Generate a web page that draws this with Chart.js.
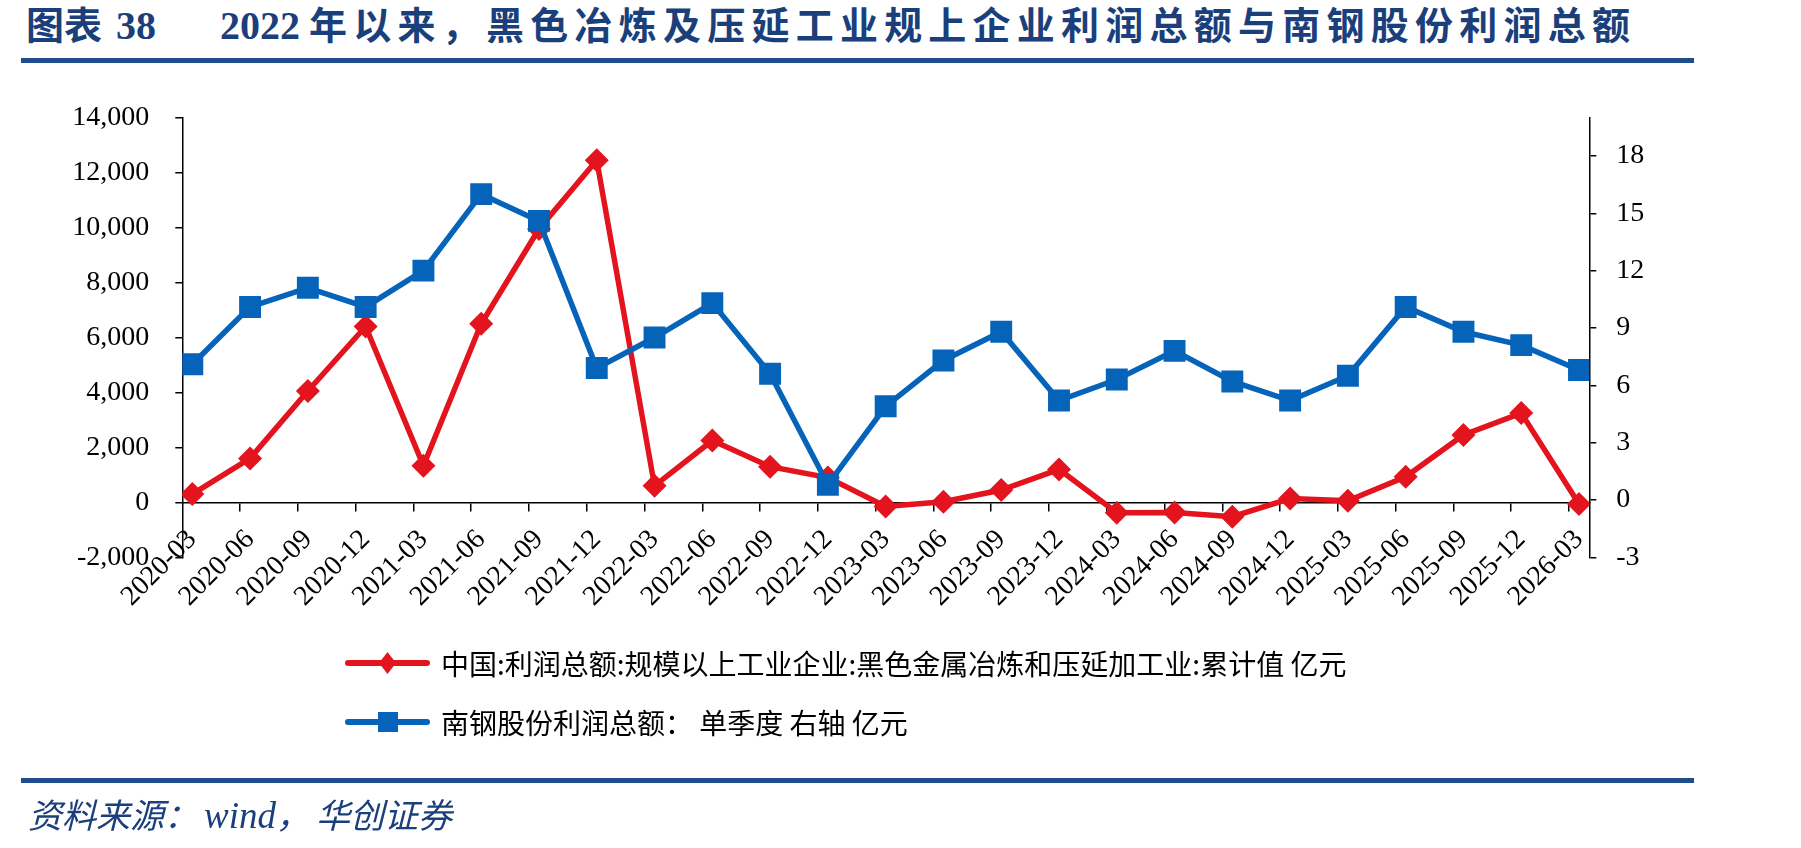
<!DOCTYPE html>
<html>
<head>
<meta charset="utf-8">
<script src="https://cdn.jsdelivr.net/npm/chart.js@4.4.1/dist/chart.umd.min.js"></script>
<style>
html,body{margin:0;padding:0;background:#ffffff;}
#wrap{position:relative;width:1801px;height:848px;overflow:hidden;background:#fff;}
#c{position:absolute;left:0;top:0;}
.t{position:absolute;top:4px;white-space:nowrap;font-family:"Liberation Serif","Noto Sans CJK SC";font-weight:700;font-size:38px;line-height:44px;color:#1B3F7B;}
.t.num{font-size:40px;}
.rule{position:absolute;left:21px;width:1673px;background:#1F4C8C;}
.lg{position:absolute;left:345px;height:40px;display:flex;align-items:center;}
.lg .sample{position:relative;width:85px;height:40px;}
.lg .sample .ln{position:absolute;left:0;right:0;top:17px;height:6px;border-radius:3px;}
.lg .sample .mk{position:absolute;left:50%;top:50%;transform:translate(-50%,-50%);}
.lg .txt{margin-left:11px;font-family:"Noto Sans CJK SC";font-size:28px;color:#000;white-space:nowrap;}
.src{position:absolute;left:28px;top:793px;white-space:nowrap;font-family:"Noto Sans CJK SC";font-style:italic;font-size:34px;line-height:42px;color:#1B3F7B;}
.src .en{font-family:"Liberation Serif";font-size:37px;}
</style>
</head>
<body>
<div id="wrap">
  <div class="t" id="t1" style="left:26px;">图表</div>
  <div class="t num" style="left:116px;">38</div>
  <div class="t num" style="left:220px;">2022</div>
  <div class="t" id="t2" style="left:309px;">年以来，黑色冶炼及压延工业规上企业利润总额与南钢股份利润总额</div>
  <div class="rule" style="top:58px;height:5px;"></div>
  <canvas id="c" width="1801" height="848"></canvas>
  <div class="lg" style="top:643px;">
    <div class="sample"><div class="ln" style="background:#E4141E"></div><div class="mk" style="width:17px;height:22px;background:#E4141E;clip-path:polygon(50% 0,100% 50%,50% 100%,0 50%);"></div></div>
    <div class="txt">中国:利润总额:规模以上工业企业:黑色金属冶炼和压延加工业:累计值 亿元</div>
  </div>
  <div class="lg" style="top:702px;">
    <div class="sample"><div class="ln" style="background:#0563B9"></div><div class="mk" style="width:20px;height:20px;background:#0563B9;"></div></div>
    <div class="txt">南钢股份利润总额： 单季度 右轴 亿元</div>
  </div>
  <div class="rule" style="top:778px;height:4.5px;"></div>
  <div class="src">资料来源：<span class="en" style="margin-left:6px;">wind</span>，<span style="margin-left:6px;">华创证券</span></div>
</div>
<script>
// ---- data ----
const quarters = ['2020-03','2020-06','2020-09','2020-12','2021-03','2021-06','2021-09','2021-12',
  '2022-03','2022-06','2022-09','2022-12','2023-03','2023-06','2023-09','2023-12',
  '2024-03','2024-06','2024-09','2024-12','2025-03','2025-06','2025-09','2025-12','2026-03'];
const industryProfit = [300,1600,4050,6400,1330,6500,9950,12450,
  600,2250,1300,900,-150,20,450,1200,
  -380,-370,-520,140,60,930,2450,3250,-60];
const nanGangProfit = [7.1,10.1,11.1,10.1,12.0,16.0,14.6,6.9,
  8.5,10.3,6.6,0.8,4.9,7.3,8.8,5.2,
  6.3,7.8,6.2,5.2,6.5,10.1,8.8,8.1,6.8];
const leftTicks = [-2000,0,2000,4000,6000,8000,10000,12000,14000];
const rightTicks = [-3,0,3,6,9,12,15,18];
const seriesNames = ['中国:利润总额:规模以上工业企业:黑色金属冶炼和压延加工业:累计值 亿元','南钢股份利润总额： 单季度 右轴 亿元'];

// stretch the long title run to its measured extent
function fit(id, target){
  const el=document.getElementById(id);
  const n=el.textContent.length;
  const w=el.getBoundingClientRect().width;
  el.style.letterSpacing=((target-w)/(n-1))+'px';
}
fit('t2',1321);

const XMIN=-0.173, XMAX=24.178, TICKOFF=-0.173;
const black='#000000';
const axisFont={family:'"Liberation Serif"',size:28};

new Chart(document.getElementById('c'),{
  type:'line',
  data:{
    datasets:[
      {label:seriesNames[1],yAxisID:'y1',xAxisID:'x',
       data:nanGangProfit.map((v,i)=>({x:i,y:v})),
       borderColor:'#0563B9',backgroundColor:'#0563B9',borderWidth:5.5,tension:0,
       pointStyle:'rect',pointRadius:15.5,pointBorderWidth:0,pointBackgroundColor:'#0563B9',pointBorderColor:'#0563B9'},
      {label:seriesNames[0],yAxisID:'y',xAxisID:'x',
       data:industryProfit.map((v,i)=>({x:i,y:v})),
       borderColor:'#E4141E',backgroundColor:'#E4141E',borderWidth:5.5,tension:0,
       pointStyle:'rectRot',pointRadius:12,pointBorderWidth:0,pointBackgroundColor:'#E4141E',pointBorderColor:'#E4141E'}
    ]
  },
  options:{
    responsive:false,animation:false,events:[],
    layout:{padding:{left:0,right:0,top:117.7,bottom:848-557.3}},
    plugins:{legend:{display:false},tooltip:{enabled:false},title:{display:false}},
    scales:{
      x:{type:'linear',min:XMIN,max:XMAX,position:{y:0},
        grid:{display:false,drawTicks:false},border:{display:false},
        afterBuildTicks:s=>{s.ticks=quarters.map((q,i)=>({value:i}));},
        ticks:{autoSkip:false,maxRotation:45,minRotation:45,padding:21,color:black,font:axisFont,
          callback:(v)=>quarters[Math.round(v)]}},
      xt:{type:'linear',axis:'x',min:XMIN,max:XMAX,position:{y:0},
        afterBuildTicks:s=>{s.ticks=quarters.slice(1).map((q,i)=>({value:i+1+TICKOFF}));},
        ticks:{display:false},
        grid:{drawOnChartArea:false,drawTicks:true,tickLength:8,color:black,lineWidth:1.5},
        border:{display:true,color:black,width:1.5}},
      y:{type:'linear',position:'left',min:-2000,max:14000,
        afterBuildTicks:s=>{s.ticks=leftTicks.map(v=>({value:v}));},
        afterFit:s=>{s.width=182.3;},
        grid:{drawOnChartArea:false,drawTicks:true,tickLength:7,color:black,lineWidth:1.5},
        border:{display:true,color:black,width:1.5},
        ticks:{padding:26,color:black,font:axisFont,callback:v=>Number(v).toLocaleString('en-US')}},
      y1:{type:'linear',position:'right',min:-3,max:20,
        afterBuildTicks:s=>{s.ticks=rightTicks.map(v=>({value:v}));},
        afterFit:s=>{s.width=1801-1589.3;},
        grid:{drawOnChartArea:false,drawTicks:true,tickLength:7,color:black,lineWidth:1.5},
        border:{display:true,color:black,width:1.5},
        ticks:{padding:20,color:black,font:axisFont,callback:v=>String(v)}}
    }
  }
});
</script>
</body>
</html>
